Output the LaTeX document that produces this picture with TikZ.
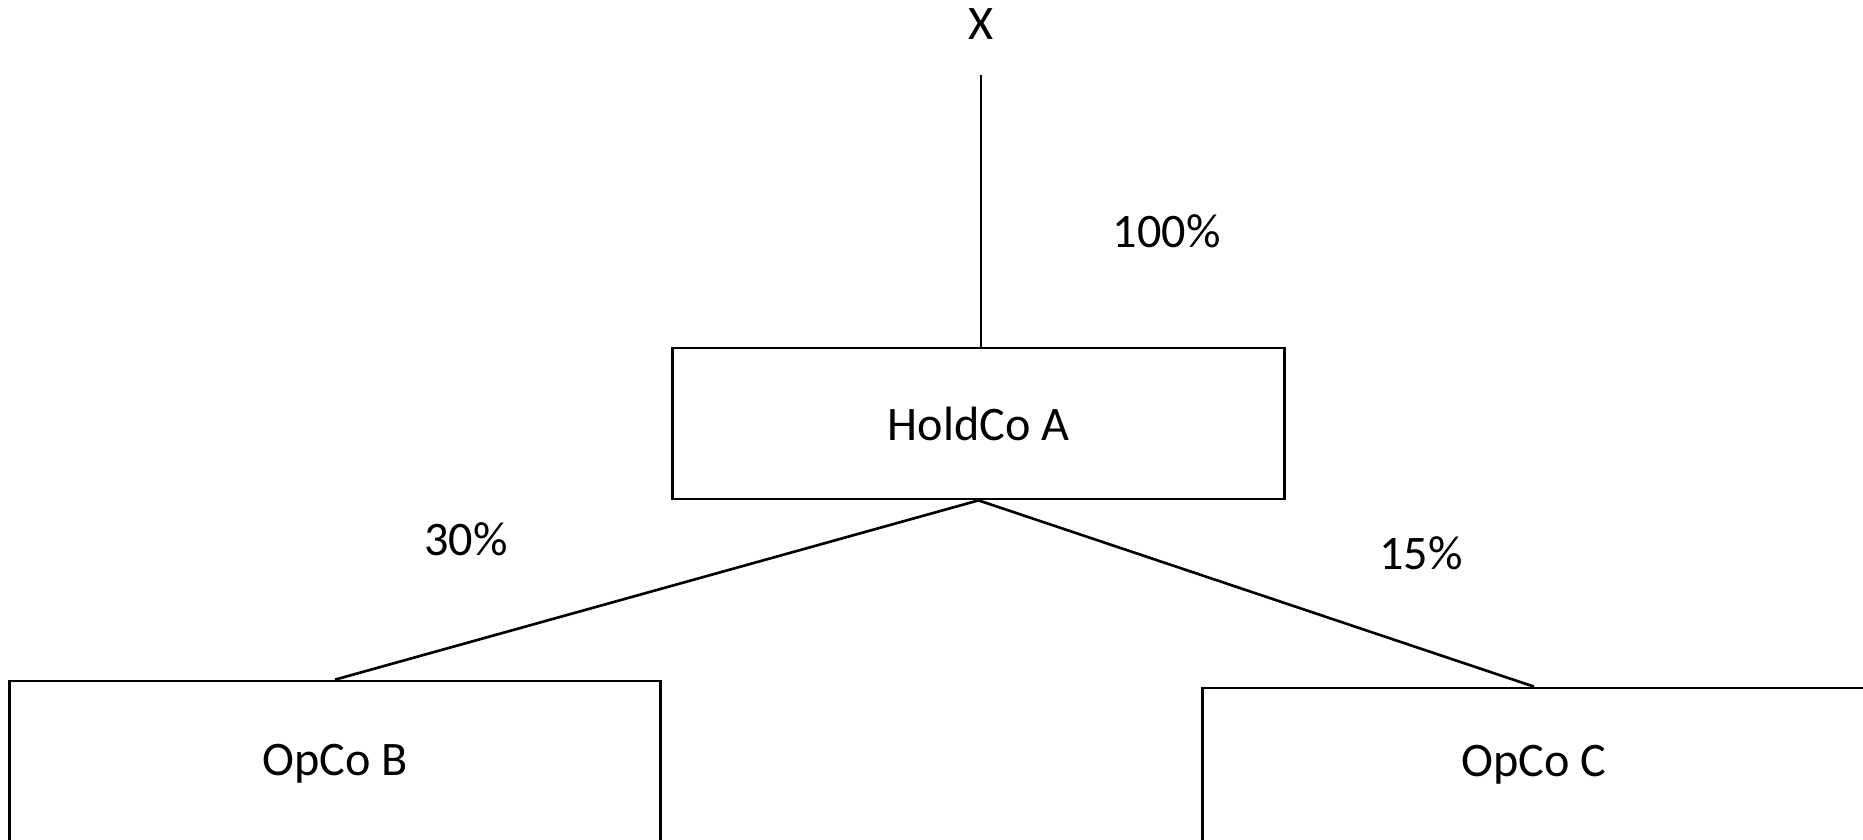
\documentclass[tikz,border=0pt]{standalone}
\usepackage{fontspec}
\setmainfont{Carlito}
\usepackage{tikz}

\begin{document}
\begin{tikzpicture}[x=0.01cm, y=-0.01cm, line width=0.75pt,
  font=\fontsize{13.7pt}{16pt}\selectfont,
  company/.style={draw, rectangle, inner sep=0pt},
  share/.style={inner sep=0pt}]
\useasboundingbox (0,0) rectangle (1863,839);
\clip (0,0) rectangle (1863,839);
\node[share] (owner) at (981,24) {X};
\coordinate (ownerline) at (981,75);
\node[company, minimum width=6.12cm, minimum height=1.51cm] (holdco) at (978.5,423.5) {HoldCo A};
\node[company, minimum width=6.51cm, minimum height=1.66cm] (opcob) at (335,764) {OpCo B};
\node[company, minimum width=6.63cm, minimum height=1.54cm] (opcoc) at (1534,765) {OpCo C};
\draw (ownerline) -- (ownerline |- holdco.north);
\draw (holdco.south) -- (opcob.north);
\draw (holdco.south) -- (opcoc.north);
\node[share] (shareA) at (1166.8,231.7) {100\%};
\node[share] (shareB) at (465.8,539.4) {30\%};
\node[share] (shareC) at (1421,553.7) {15\%};
\end{tikzpicture}
\end{document}
